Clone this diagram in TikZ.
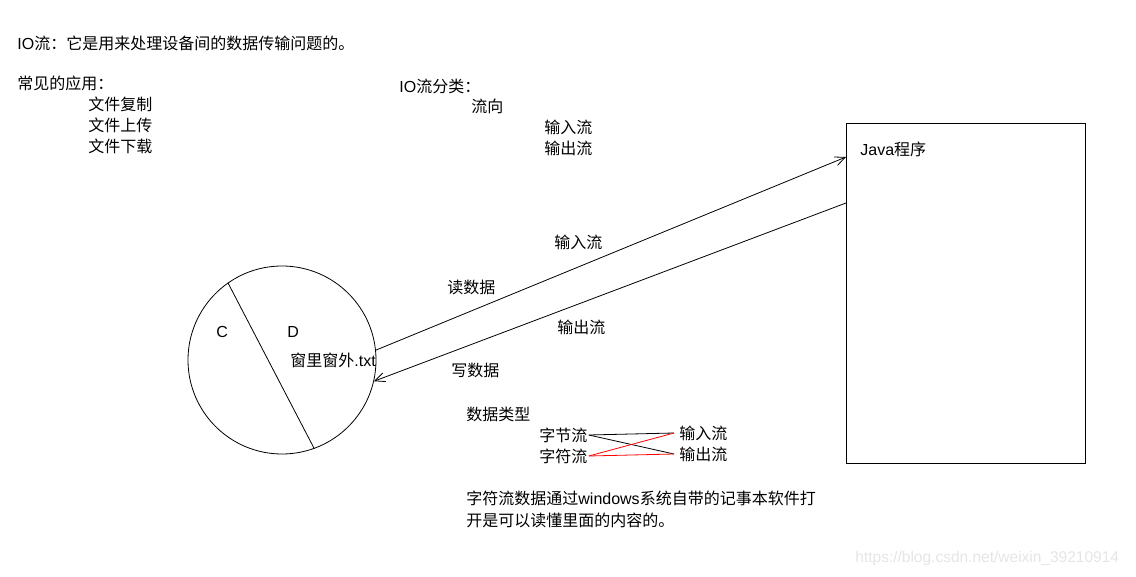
\documentclass[tikz,border=0pt]{standalone}
\usepackage{fontspec}
\setmainfont{Liberation Sans}
\newfontfamily\cjk{Noto Sans CJK SC}
\usetikzlibrary{arrows.meta}
\begin{document}
\begin{tikzpicture}[x=1pt, y=-1pt, line width=0.8pt, >={Straight Barb[length=10pt,width=9pt]}]
  \tikzstyle{words}=[anchor=west, inner sep=0pt, font=\fontsize{16}{19}\selectfont]
  \tikzstyle{zh}=[words, font=\fontsize{16}{19}\selectfont\cjk]
  \useasboundingbox (0,0) rectangle (1136,577);
  % notes on the left
  \node[words] (title) at (17,43) {IO{\cjk 流：它是用来处理设备间的数据传输问题的。}};
  \node[zh] (use) at (17,83) {常见的应用：};
  \foreach \y/\name/\txt in {104/copy/文件复制, 125/upload/文件上传, 146/download/文件下载}
    \node[zh] (\name) at (88,\y) {\txt};
  % kinds of streams
  \node[words] (kinds) at (399,86) {IO{\cjk 流分类：}};
  \node[zh] (dir) at (471,106) {流向};
  \node[zh] (in1) at (544,127) {输入流};
  \node[zh] (out1) at (544,148) {输出流};
  % disk with the file
  \node[draw, circle, minimum size=188pt, inner sep=0pt] (disk) at (282,360) {};
  \draw (disk.125) -- (disk.-70);
  \node[words] (c) at (216,332) {C};
  \node[words] (d) at (287,332) {D};
  \node[words] (file) at (290,360) {{\cjk 窗里窗外}.txt};
  % the program
  \node[draw, anchor=north west, minimum width=239pt, minimum height=340pt, inner sep=0pt] (java) at (846,123) {};
  \node[words] (jlabel) at (860,149) {Java{\cjk 程序}};
  \coordinate (jin) at (846,157);
  \coordinate (jout) at (846,203);
  \draw[->] (disk.6) -- (jin);
  \draw[->] (jout) -- (disk.-13);
  \node[zh] (inlbl) at (554,242) {输入流};
  \node[zh] (read) at (447,287) {读数据};
  \node[zh] (outlbl) at (557,327) {输出流};
  \node[zh] (write) at (451,370) {写数据};
  % data types
  \node[zh] (types) at (466,414) {数据类型};
  \node[zh] (byte) at (539,435) {字节流};
  \node[zh] (char) at (539,456) {字符流};
  \node[zh] (in2) at (679,433) {输入流};
  \node[zh] (out2) at (679,454) {输出流};
  \foreach \from/\to in {byte/in2, byte/out2}
    \draw ([xshift=1pt]\from.east) -- ([xshift=-5pt]\to.west);
  \foreach \from/\to in {char/in2, char/out2}
    \draw[red] ([xshift=1pt]\from.east) -- ([xshift=-5pt]\to.west);
  \node[words] (note1) at (466,498) {{\cjk 字符流数据通过}windows{\cjk 系统自带的记事本软件打}};
  \node[zh] (note2) at (466,520) {开是可以读懂里面的内容的。};
  \node[words, text=gray!20, font=\fontsize{15.5}{18}\selectfont] (mark) at (855,558) {https://blog.csdn.net/weixin\_39210914};
\end{tikzpicture}
\end{document}
